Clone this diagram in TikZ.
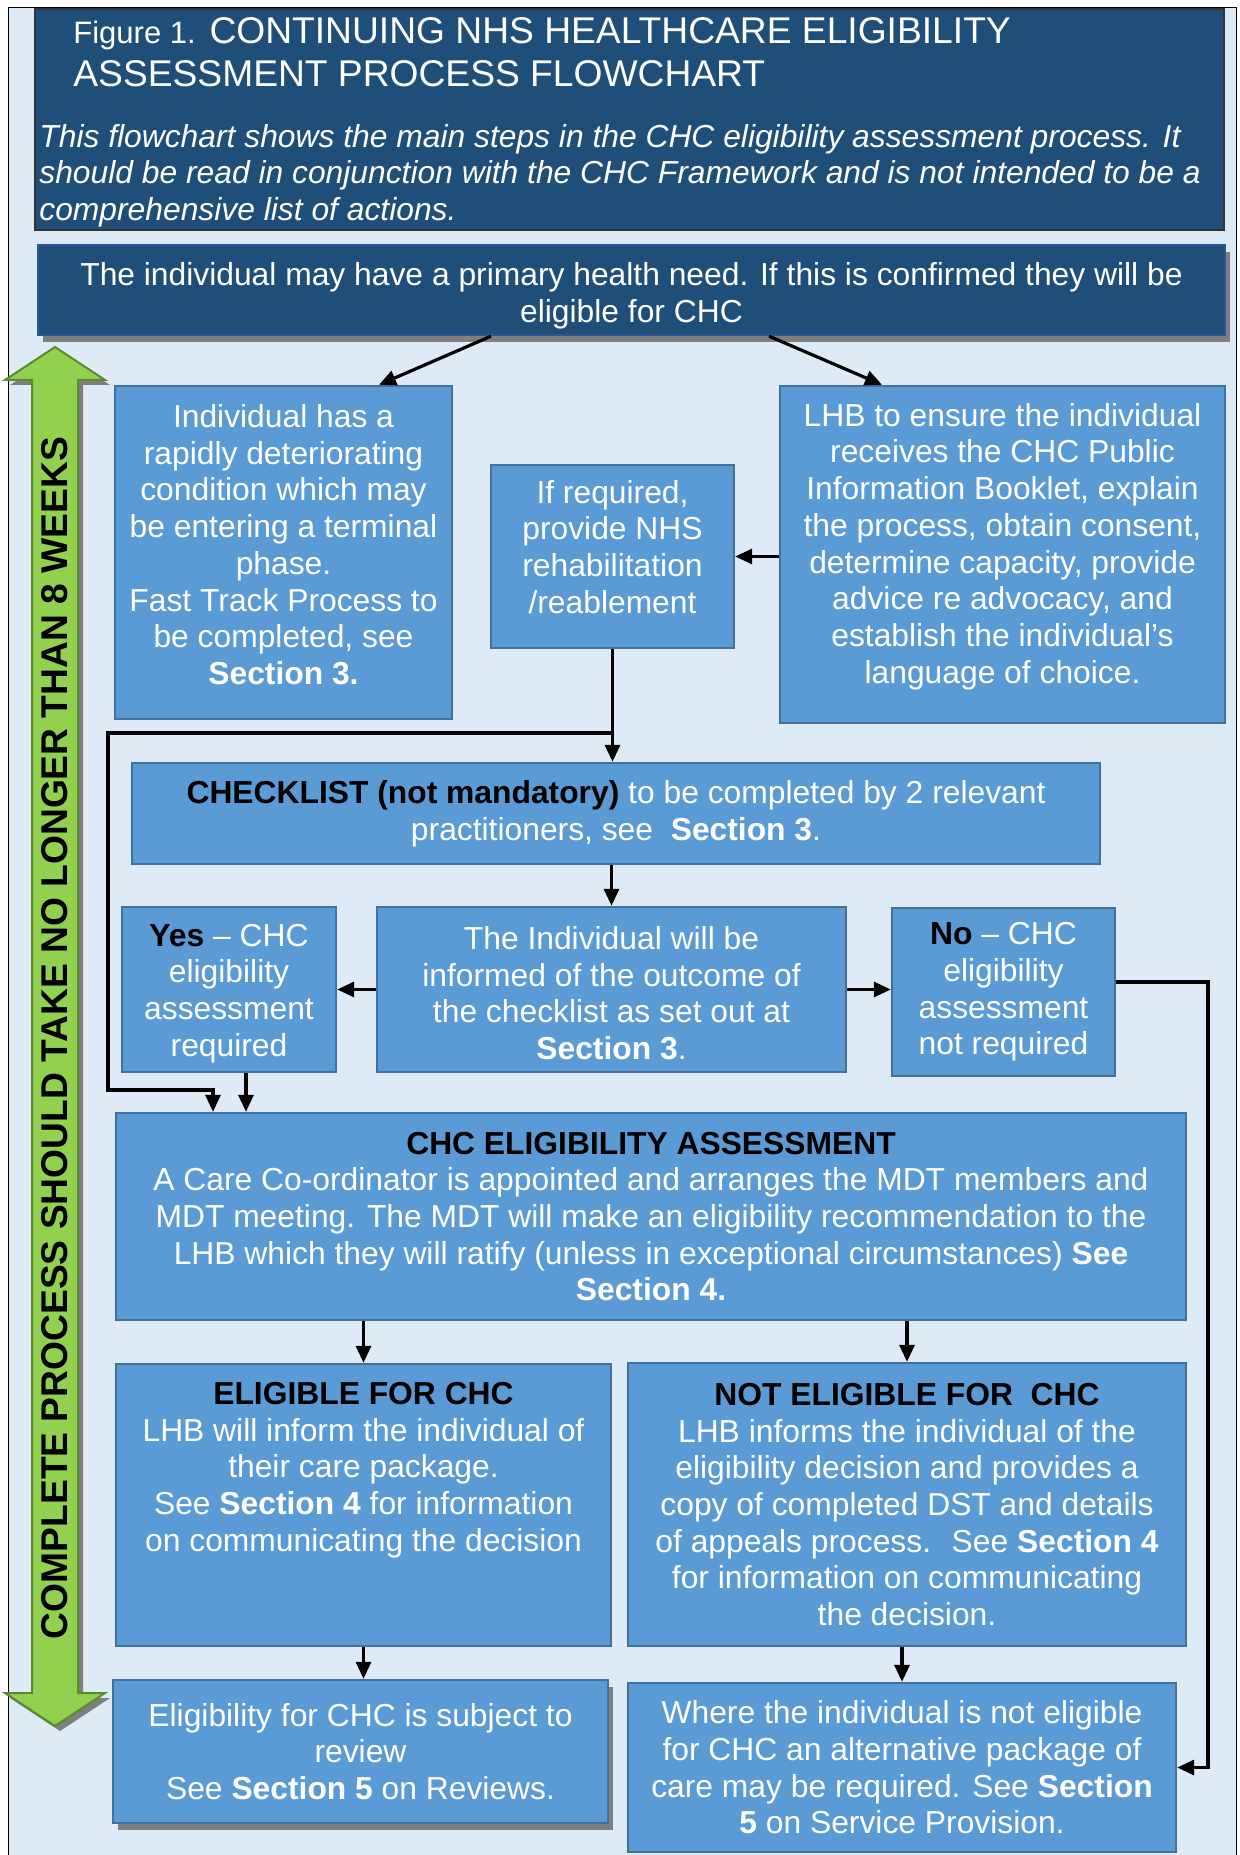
\documentclass[tikz,border=0pt]{standalone}
\usepackage{fontspec}
\setmainfont{Liberation Sans}
\usetikzlibrary{arrows.meta,shadows}

\definecolor{pagefill}{HTML}{DEEBF7}
\definecolor{navy}{HTML}{1F4E79}
\definecolor{neededge}{HTML}{2F5597}
\definecolor{boxfill}{HTML}{5B9BD5}
\definecolor{boxedge}{HTML}{41719C}
\definecolor{weekgreen}{HTML}{92D050}
\definecolor{weekedge}{HTML}{5B8A2F}
\definecolor{shadegray}{HTML}{7F7F7F}

\newcommand{\bodyfont}{\fontsize{15.9}{18.35}\selectfont}
\newcommand{\blk}[1]{\textbf{\color{black}#1}}
% struts to nudge text inside a box
\newcommand{\padtop}[1]{\rule{0pt}{#1}}
\newcommand{\padbot}[1]{\rule[-#1]{0pt}{#1}}

\begin{document}
\begin{tikzpicture}[x=0.5pt, y=-0.5pt,
    stepbox/.style={draw=boxedge, fill=boxfill, line width=1.2pt, text=white,
        align=center, inner sep=0pt, font=\bodyfont},
    flow/.style={line width=1.6pt, -{Triangle[length=8.5pt, width=7.5pt]}},
    castshadow/.style={drop shadow={shadow xshift=2.5pt, shadow yshift=-3.5pt,
        fill=shadegray, opacity=1}}
]
    % Page
    \useasboundingbox (0,0) rectangle (1239,1855);
    \draw[fill=pagefill, line width=0.5pt] (8,8) rectangle (1236,1870);

    % Heading
    \node[fill=navy, draw=black!80, line width=0.6pt, minimum width=594.5pt,
        minimum height=110.5pt, inner sep=0pt] (hdr) at (629.5,119.5) {};
    \node[anchor=west, align=left, inner sep=0pt, text=white,
        font=\fontsize{18.6}{21.5}\selectfont] (title) at (73,52.5)
        {{\fontsize{15.5}{18}\selectfont Figure 1.} CONTINUING NHS HEALTHCARE ELIGIBILITY\\ASSESSMENT PROCESS FLOWCHART};
    \node[anchor=west, align=left, inner sep=0pt, text=white,
        font=\bodyfont\itshape] (intro) at (39,175.5)
        {This flowchart shows the main steps in the CHC eligibility assessment process. It\\should be read in conjunction with the CHC Framework and is not intended to be a\\comprehensive list of actions.};

    % Primary health need
    \node[fill=navy, draw=neededge, line width=1.2pt, minimum width=593.5pt,
        minimum height=45pt, inner sep=0pt, text=white, align=center,
        font=\bodyfont, castshadow] (need) at (631.5,290)
        {\padtop{17.6pt}The individual may have a primary health need. If this is confirmed they will be\\eligible for CHC};

    % Eight weeks arrow
    \fill[shadegray, shift={(5,5)}] (55,347) -- (105,380) -- (78,380) -- (78,1693) -- (105,1693)
        -- (55,1726) -- (5,1693) -- (32,1693) -- (32,380) -- (5,380) -- cycle;
    \filldraw[fill=weekgreen, draw=weekedge, line width=1pt] (55,347) -- (105,380) -- (78,380)
        -- (78,1693) -- (105,1693) -- (55,1726) -- (5,1693) -- (32,1693) -- (32,380) -- (5,380) -- cycle;
    \node[rotate=90, inner sep=0pt, font=\fontsize{18.6}{20}\selectfont\bfseries] (weeks) at (55,1038)
        {COMPLETE PROCESS SHOULD TAKE NO LONGER THAN 8 WEEKS};

    % First row
    \node[stepbox, minimum width=168.5pt, minimum height=166.5pt] (fast) at (283.5,552.5)
        {Individual has a\\rapidly deteriorating\\condition which may\\be entering a terminal\\phase.\\Fast Track Process to\\be completed, see\\\textbf{Section 3.}\padbot{8pt}};
    \node[stepbox, minimum width=121.5pt, minimum height=91.5pt] (rehab) at (612.5,556.5)
        {If required,\\provide NHS\\rehabilitation\\/reablement\padbot{9.7pt}};
    \node[stepbox, minimum width=222.5pt, minimum height=168.5pt] (lhb) at (1002.5,554.5)
        {LHB to ensure the individual\\receives the CHC Public\\Information Booklet, explain\\the process, obtain consent,\\determine capacity, provide\\advice re advocacy, and\\establish the individual’s\\language of choice.\padbot{11.3pt}};

    % Checklist
    \node[stepbox, minimum width=484pt, minimum height=50.5pt] (check) at (616,813.5)
        {\blk{CHECKLIST (not mandatory)} to be completed by 2 relevant\\practitioners, see \ \textbf{Section 3}.};
    \node[stepbox, minimum width=107pt, minimum height=82.5pt] (yes) at (229,989.5)
        {\padtop{15pt}\blk{Yes} – CHC\\eligibility\\assessment\\required};
    \node[stepbox, minimum width=234.5pt, minimum height=82.5pt] (inform) at (611.5,989.5)
        {\padtop{15.1pt}The Individual will be\\informed of the outcome of\\the checklist as set out at\\\textbf{Section 3}.};
    \node[stepbox, minimum width=111.5pt, minimum height=84pt] (no) at (1003.5,992)
        {\blk{No} – CHC\\eligibility\\assessment\\not required};

    % Assessment
    \node[stepbox, minimum width=535pt, minimum height=103.5pt] (assess) at (651,1216.5)
        {\blk{CHC ELIGIBILITY ASSESSMENT}\\A Care Co-ordinator is appointed and arranges the MDT members and\\MDT meeting. The MDT will make an eligibility recommendation to the\\LHB which they will ratify (unless in exceptional circumstances) \textbf{See}\\\textbf{Section 4.}};

    % Outcomes
    \node[stepbox, minimum width=247.5pt, minimum height=141pt] (elig) at (363.5,1505) {};
    \node[anchor=north, align=center, inner sep=0pt, text=white, font=\bodyfont] (eligtext)
        at ([yshift=-9.5pt]elig.north)
        {\blk{ELIGIBLE FOR CHC}\\LHB will inform the individual of\\their care package.\\See \textbf{Section 4} for information\\on communicating the decision};
    \node[stepbox, minimum width=279pt, minimum height=141.5pt] (notelig) at (907,1504.5)
        {\blk{NOT ELIGIBLE FOR \ CHC}\\LHB informs the individual of the\\eligibility decision and provides a\\copy of completed DST and details\\of appeals process. \ See \textbf{Section 4}\\for information on communicating\\the decision.};
    \node[stepbox, minimum width=247.5pt, minimum height=71.5pt, castshadow] (review) at (360.5,1751.5)
        {Eligibility for CHC is subject to\\review\\See \textbf{Section 5} on Reviews.};
    \node[stepbox, minimum width=274pt, minimum height=84.5pt] (alt) at (902,1767.5)
        {Where the individual is not eligible\\for CHC an alternative package of\\care may be required. See \textbf{Section}\\\textbf{5} on Service Provision.};

    % Connectors
    \coordinate (join) at (rehab.south |- 0,733);
    \coordinate (loop) at (108,1090);
    \coordinate (noturn) at (1208,1767.5);
    \draw[flow] ([xshift=-70.25pt]need.south) -- ([xshift=47.75pt]fast.north);
    \draw[flow] ([xshift=68.75pt]need.south) -- ([xshift=-60.25pt]lhb.north);
    \draw[flow] (lhb.west |- rehab.east) -- (rehab.east);
    \draw[flow] (rehab.south) -- (rehab.south |- check.north);
    \draw[flow] (join) -| (loop) -| ([xshift=-219pt]assess.north);
    \draw[flow] (inform.north |- check.south) -- (inform.north);
    \draw[flow] (inform.west) -- (yes.east |- inform.west);
    \draw[flow] (inform.east) -- (no.west |- inform.east);
    \draw[flow] ([xshift=8.5pt]yes.south) -- ([xshift=8.5pt]yes.south |- assess.north);
    \draw[flow] ([yshift=5pt]no.east) -| (noturn) -- (alt.east);
    \draw[flow] (elig.north |- assess.south) -- (elig.north);
    \draw[flow] (notelig.north |- assess.south) -- (notelig.north);
    \draw[flow] (elig.south) -- (elig.south |- review.north);
    \draw[flow] (alt.north |- notelig.south) -- (alt.north);
\end{tikzpicture}
\end{document}
